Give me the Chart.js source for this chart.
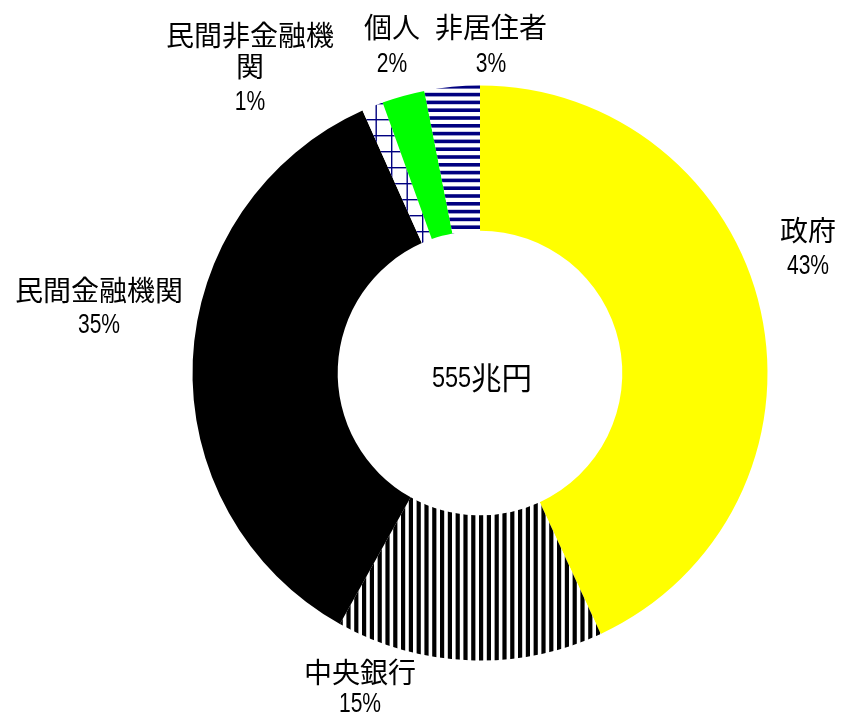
<!DOCTYPE html>
<html><head><meta charset="utf-8">
<script src="https://cdn.jsdelivr.net/npm/chart.js@4"></script>
<style>html,body{margin:0;padding:0;background:#fff;overflow:hidden}canvas{display:block}</style>
</head><body>
<canvas id="c" width="841" height="713"></canvas>
<script>
// ---- data ----
const categories = ['政府', '中央銀行', '民間金融機関', '民間非金融機関', '個人', '非居住者'];
const values = [43.1, 15.0, 35.2, 1.2, 2.4, 3.1];
const totalLabel = '555兆円';

// ---- layout / style (not data) ----
const CJK_FONT = '"Noto Sans CJK JP", "Noto Sans CJK SC", sans-serif';
const LAT_FONT = '"Liberation Sans", Arial, sans-serif';
const LABEL_SIZES = { cjk: 28, lat: 27, scale: 0.78 };
const CENTER_SIZES = { cjk: 30.5, lat: 29, scale: 0.81 };
// label block line centres, relative to the doughnut centre
const labelLayout = [
  { dx: 328, dy: [-143, -108.5] },
  { dx: -120, dy: [299, 329] },
  { dx: -381, dy: [-83, -50] },
  { dx: -230, dy: [-338, -307, -273] },
  { dx: -88, dy: [-345.5, -310.5] },
  { dx: 11, dy: [-345.5, -310.5] }
];

function makePattern(w, h, draw) {
  const c = document.createElement('canvas');
  c.width = w; c.height = h;
  const g = c.getContext('2d');
  g.fillStyle = '#fff'; g.fillRect(0, 0, w, h);
  draw(g);
  return g.createPattern(c, 'repeat');
}
const vStripes = makePattern(39, 4, g => {
  g.fillStyle = '#000';
  for (let k = -1; k < 6; k++) g.fillRect(3.2 + k * 7.8, 0, 4.2, 4);
});
const hStripes = makePattern(4, 39, g => {
  g.fillStyle = '#000080';
  for (let k = -1; k < 6; k++) g.fillRect(0, 7 + k * 7.8, 4, 3.6);
});
const grid = makePattern(31, 32, g => {
  g.fillStyle = '#000080';
  g.fillRect(3.5, 0, 1.4, 32); g.fillRect(19, 0, 1.4, 32);
  g.fillRect(0, 7, 31, 1.4); g.fillRect(0, 23, 31, 1.4);
});
const fills = ['#ffff00', vStripes, '#000000', grid, '#00ff00', hStripes];

function isLatin(ch) { return /[0-9A-Za-z%.,]/.test(ch); }
function runsOf(text) {
  const runs = [];
  for (const ch of text) {
    const lat = isLatin(ch);
    if (runs.length && runs[runs.length - 1].lat === lat) runs[runs.length - 1].t += ch;
    else runs.push({ t: ch, lat });
  }
  return runs;
}
function runWidth(ctx, r, S) {
  if (r.lat) { ctx.font = S.lat + 'px ' + LAT_FONT; return ctx.measureText(r.t).width * S.scale; }
  ctx.font = S.cjk + 'px ' + CJK_FONT; return ctx.measureText(r.t).width;
}
function drawMixed(ctx, text, cx, cy, S) {
  const runs = runsOf(text);
  const ws = runs.map(r => runWidth(ctx, r, S));
  let x = cx - ws.reduce((a, b) => a + b, 0) / 2;
  ctx.fillStyle = '#000';
  ctx.textAlign = 'left';
  ctx.textBaseline = 'alphabetic';
  runs.forEach((r, i) => {
    ctx.save();
    if (r.lat) {
      ctx.font = S.lat + 'px ' + LAT_FONT;
      ctx.translate(x, cy + 0.358 * S.lat);
      ctx.scale(S.scale, 1);
      ctx.fillText(r.t, 0, 0);
    } else {
      ctx.font = S.cjk + 'px ' + CJK_FONT;
      ctx.fillText(r.t, x, cy + 0.385 * S.cjk);
    }
    ctx.restore();
    x += ws[i];
  });
}
function wrapCJK(ctx, text, maxW, S) {
  ctx.font = S.cjk + 'px ' + CJK_FONT;
  const lines = [];
  let cur = '';
  for (const ch of text) {
    if (cur && ctx.measureText(cur + ch).width > maxW) { lines.push(cur); cur = ch; }
    else cur += ch;
  }
  if (cur) lines.push(cur);
  return lines;
}

const labelPlugin = {
  id: 'labels',
  afterDraw(chart) {
    const ctx = chart.ctx;
    const meta = chart.getDatasetMeta(0);
    const arc0 = meta.data[0];
    const cx = arc0.x, cy = arc0.y;
    const total = values.reduce((a, b) => a + b, 0);
    ctx.save();
    drawMixed(ctx, totalLabel, cx + 2, cy + 4, CENTER_SIZES);
    categories.forEach((name, i) => {
      const lines = wrapCJK(ctx, name, 180, LABEL_SIZES);
      lines.push(Math.round(values[i] / total * 100) + '%');
      const L = labelLayout[i];
      lines.forEach((ln, j) => drawMixed(ctx, ln, cx + L.dx, cy + L.dy[j], LABEL_SIZES));
    });
    ctx.restore();
  }
};

new Chart(document.getElementById('c'), {
  type: 'doughnut',
  data: {
    labels: categories,
    datasets: [{ data: values, backgroundColor: fills, borderWidth: 0 }]
  },
  options: {
    responsive: false,
    animation: false,
    cutout: '49.5%',
    layout: { padding: { top: 85.5, bottom: 52.5, left: 192.5, right: 73.5 } },
    plugins: { legend: { display: false }, tooltip: { enabled: false } }
  },
  plugins: [labelPlugin]
});
</script>
</body></html>
